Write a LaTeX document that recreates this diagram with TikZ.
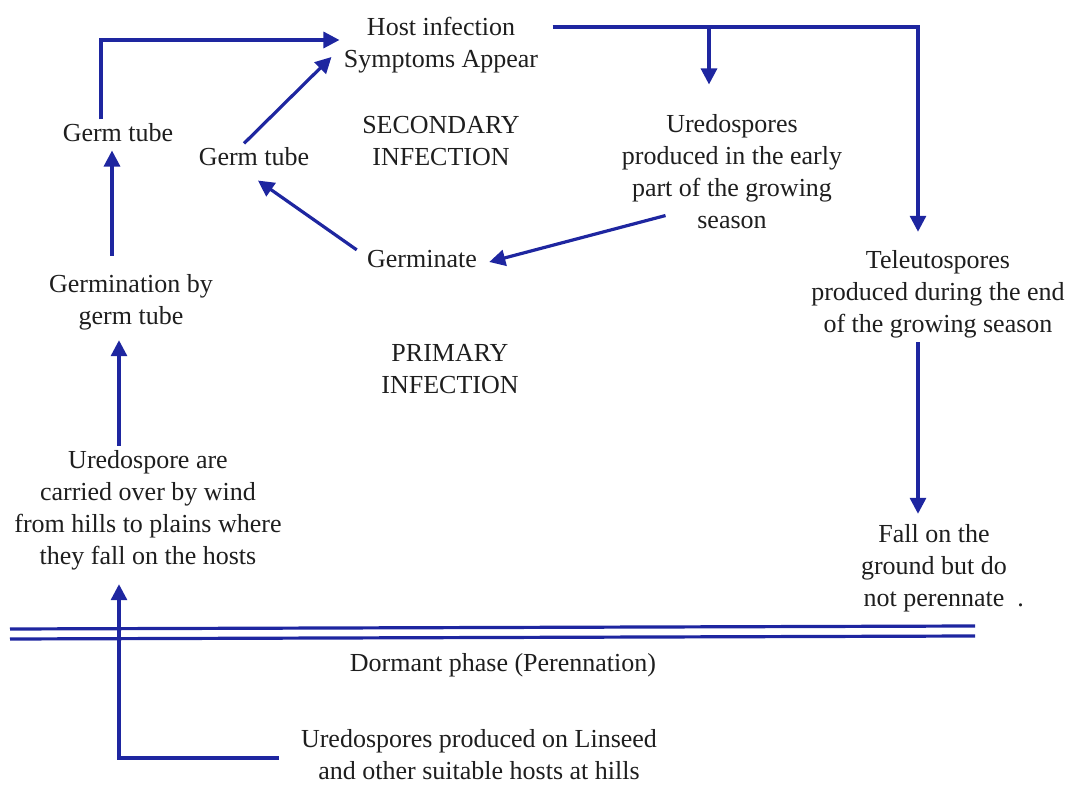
\documentclass[tikz,border=0pt]{standalone}
\usepackage{fontspec}
\setmainfont{Liberation Serif}
\usetikzlibrary{arrows.meta, positioning}
\definecolor{arrowblue}{RGB}{30,38,160}
\definecolor{inkgray}{RGB}{30,30,30}

\begin{document}
\begin{tikzpicture}[x=0.5pt, y=-0.5pt,
    label/.style={align=center, text=inkgray, font=\fontsize{13}{16}\selectfont, inner sep=2pt},
    arrow/.style={draw=arrowblue, line width=1.6pt, -{Triangle[length=8pt,width=8pt]}},
    rule/.style={draw=arrowblue, line width=1.6pt}
]
\useasboundingbox (0,0) rectangle (1072,785);

% Secondary infection
\node[label] (host) at (441,45) {Host infection\\Symptoms Appear};
\node[label] (germA) at (118,133) {Germ tube};
\node[label] (germB) at (254,157) {Germ tube};
\node[label] (secondary) at (441,141) {SECONDARY\\INFECTION};
\node[label] (uredo) at (732,172) {Uredospores\\produced in the early\\part of the growing\\season};
\node[label] (germinate) at (422,259) {Germinate};
\node[label] (teleuto) at (938,294) {Teleutospores\\produced during the end\\of the growing season};

% Primary infection
\node[label] (germination) at (131,302) {Germination by\\germ tube};
\node[label] (primary) at (450,369) {PRIMARY\\INFECTION};
\node[label] (carried) at (148,510) {Uredospore are\\carried over by wind\\from hills to plains where\\they fall on the hosts};
\node[label] (fall) at (934,568) {Fall on the\\ground but do\\not perennate\rlap{\ \ .}};

% Dormant phase
\node[label] (dormant) at (503,665) {Dormant phase (Perennation)};
\node[label] (linseed) at (479,755) {Uredospores produced on Linseed\\and other suitable hosts at hills};

\coordinate (branch) at (709,27);

% Connections
\draw[arrow] (germA.north -| 101,0) |- ([yshift=2.5pt]host.west);
\draw[arrow] ([xshift=-5pt]germB.north) -- ([yshift=-6pt,xshift=-4pt]host.west);
\draw[arrow] ([yshift=9pt,xshift=5pt]host.east) -| ([yshift=7pt]teleuto.north -| 918,0);
\draw[arrow, shorten >=13pt] (branch) -- (uredo.north -| branch);
\draw[arrow] ([xshift=24pt,yshift=9pt]uredo.south west) -- ([xshift=4pt,yshift=-1.5pt]germinate.east);
\draw[arrow] ([xshift=-3pt,yshift=-2pt]germinate.north west) -- ([yshift=-5pt,xshift=2pt]germB.south);
\draw[arrow] ([yshift=7pt]germination.north -| 112,0) -- ([yshift=-2pt]germA.south -| 112,0);
\draw[arrow] (carried.north -| 119,0) -- ([yshift=-3pt]germination.south -| 119,0);
\draw[arrow] (teleuto.south -| 918,0) -- ([yshift=3pt]fall.north -| 918,0);
\draw[arrow] ([xshift=-9pt,yshift=-1.5pt]linseed.west) -| ([yshift=-5pt]carried.south -| 119,0);

% Double rule
\draw[rule] (10,629) -- (975,626);
\draw[rule] (10,639) -- (975,636);

\end{tikzpicture}
\end{document}
